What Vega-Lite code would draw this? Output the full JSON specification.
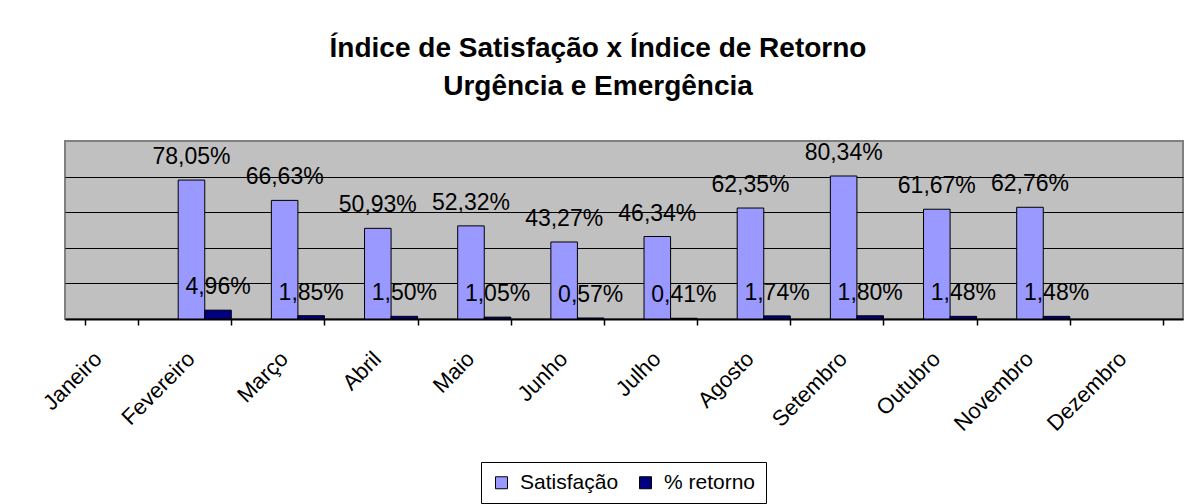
{
  "$schema": "https://vega.github.io/schema/vega-lite/v6.json",
  "width": 1118,
  "height": 178,
  "autosize": "none",
  "padding": {"left": 65, "top": 141, "right": 11, "bottom": 185},
  "background": "white",
  "title": {
    "text": ["Índice de Satisfação x Índice de Retorno", "Urgência e Emergência"],
    "font": "Liberation Sans",
    "fontSize": 28,
    "fontWeight": "bold",
    "color": "black",
    "anchor": "middle",
    "offset": 40,
    "lineHeight": 38,
    "dx": -26
  },
  "data": {
    "values": [
      {"month": "Fevereiro", "series": "Satisfação", "value": 78.05},
      {"month": "Fevereiro", "series": "% retorno", "value": 4.96},
      {"month": "Março", "series": "Satisfação", "value": 66.63},
      {"month": "Março", "series": "% retorno", "value": 1.85},
      {"month": "Abril", "series": "Satisfação", "value": 50.93},
      {"month": "Abril", "series": "% retorno", "value": 1.50},
      {"month": "Maio", "series": "Satisfação", "value": 52.32},
      {"month": "Maio", "series": "% retorno", "value": 1.05},
      {"month": "Junho", "series": "Satisfação", "value": 43.27},
      {"month": "Junho", "series": "% retorno", "value": 0.57},
      {"month": "Julho", "series": "Satisfação", "value": 46.34},
      {"month": "Julho", "series": "% retorno", "value": 0.41},
      {"month": "Agosto", "series": "Satisfação", "value": 62.35},
      {"month": "Agosto", "series": "% retorno", "value": 1.74},
      {"month": "Setembro", "series": "Satisfação", "value": 80.34},
      {"month": "Setembro", "series": "% retorno", "value": 1.80},
      {"month": "Outubro", "series": "Satisfação", "value": 61.67},
      {"month": "Outubro", "series": "% retorno", "value": 1.48},
      {"month": "Novembro", "series": "Satisfação", "value": 62.76},
      {"month": "Novembro", "series": "% retorno", "value": 1.48}
    ]
  },
  "transform": [
    {"calculate": "replace(format(datum.value, '.2f'), '.', ',') + '%'", "as": "label"}
  ],
  "encoding": {
    "x": {
      "field": "month",
      "type": "nominal",
      "sort": ["Janeiro", "Fevereiro", "Março", "Abril", "Maio", "Junho", "Julho", "Agosto", "Setembro", "Outubro", "Novembro", "Dezembro"],
      "scale": {
        "domain": ["Janeiro", "Fevereiro", "Março", "Abril", "Maio", "Junho", "Julho", "Agosto", "Setembro", "Outubro", "Novembro", "Dezembro"],
        "paddingInner": 0.43,
        "paddingOuter": 0.215
      },
      "axis": {
        "title": null,
        "labelAngle": -45,
        "labelAlign": "right",
        "labelBaseline": "middle",
        "labelOffset": -14,
        "labelPadding": 30,
        "labelFont": "Liberation Sans",
        "labelFontSize": 22,
        "labelColor": "black",
        "domainColor": "black",
        "domainWidth": 2,
        "tickColor": "black",
        "tickWidth": 1.5,
        "tickSize": 6,
        "tickBand": "extent",
        "grid": false
      }
    },
    "xOffset": {
      "field": "series",
      "type": "nominal",
      "sort": ["Satisfação", "% retorno"],
      "scale": {"paddingInner": 0, "paddingOuter": 0}
    },
    "y": {
      "field": "value",
      "type": "quantitative",
      "scale": {"domain": [0, 100], "nice": false, "zero": true},
      "axis": {
        "title": null,
        "labels": false,
        "ticks": false,
        "domain": false,
        "grid": true,
        "gridColor": "black",
        "gridWidth": 1,
        "gridOpacity": 1,
        "values": [20, 40, 60, 80]
      }
    }
  },
  "layer": [
    {
      "mark": {"type": "bar", "stroke": "black", "strokeWidth": 1},
      "encoding": {
        "color": {
          "field": "series",
          "type": "nominal",
          "sort": ["Satisfação", "% retorno"],
          "scale": {"domain": ["Satisfação", "% retorno"], "range": ["#9999FF", "#000080"]},
          "legend": {
            "title": null,
            "orient": "none",
            "legendX": 416,
            "legendY": 321,
            "direction": "horizontal",
            "padding": 10,
            "strokeColor": "black",
            "fillColor": "white",
            "symbolType": "square",
            "symbolSize": 144,
            "symbolStrokeColor": "black",
            "symbolStrokeWidth": 1,
            "symbolOpacity": 1,
            "labelFont": "Liberation Sans",
            "labelFontSize": 21,
            "labelColor": "black",
            "labelOffset": 8,
            "columnPadding": 16
          }
        }
      }
    },
    {
      "mark": {
        "type": "text",
        "dy": -16,
        "baseline": "alphabetic",
        "align": "center",
        "font": "Liberation Sans",
        "fontSize": 23,
        "color": "black"
      },
      "encoding": {
        "text": {"field": "label", "type": "nominal"}
      }
    }
  ],
  "config": {
    "view": {"fill": "#C0C0C0", "stroke": "#808080", "strokeWidth": 2},
    "font": "Liberation Sans"
  }
}
